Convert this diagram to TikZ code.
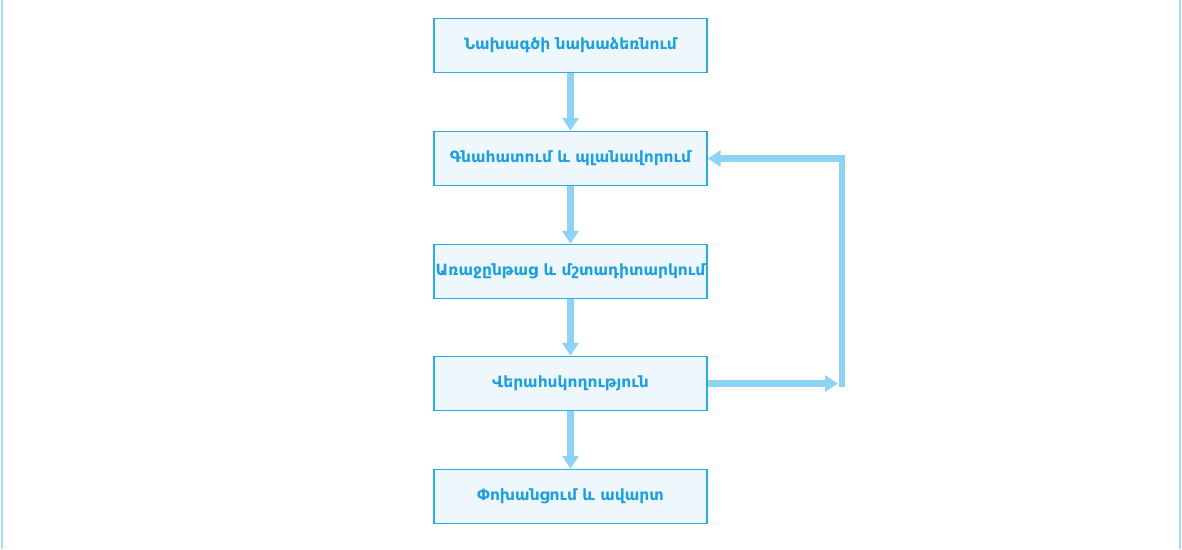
\documentclass[tikz,border=0pt]{standalone}
\usepackage{fontspec}
\setmainfont{DejaVu Sans}
\usetikzlibrary{arrows.meta}
\definecolor{boxline}{HTML}{2AAAE2}
\definecolor{boxfill}{HTML}{EDF7FC}
\definecolor{flowcol}{HTML}{8ED4F2}
\definecolor{textcol}{HTML}{1CA0DE}
\tikzset{
  stage/.style={draw=boxline, line width=1.4pt, fill=boxfill, minimum width=273pt,
    minimum height=54pt, inner sep=0pt, text=textcol, font=\bfseries\fontsize{15.5}{17}\selectfont},
  flow/.style={draw=flowcol, line width=6.5pt, -{Triangle[width=16pt,length=13pt]}},
}
\begin{document}
\begin{tikzpicture}[x=1pt,y=1pt]
    \useasboundingbox (0,0) rectangle (1182,549);
    \draw[flowcol!80, line width=2pt] (2,0) -- (2,549);
    \draw[flowcol!80, line width=2pt] (1180,0) -- (1180,549);
    \node[stage] (init) at (570.5,503.5) {Նախագծի նախաձեռնում};
    \node[stage] (plan) at (570.5,390.5) {Գնահատում և պլանավորում};
    \node[stage] (prog) at (570.5,277.5) {Առաջընթաց և մշտադիտարկում};
    \node[stage] (ctrl) at (570.5,165.5) {Վերահսկողություն};
    \node[stage] (done) at (570.5,52.5) {Փոխանցում և ավարտ};
    \draw[flow] (init.south) -- (plan.north);
    \draw[flow] (plan.south) -- (prog.north);
    \draw[flow] (prog.south) -- (ctrl.north);
    \draw[flow] (ctrl.south) -- (done.north);
    % feedback loop
    \coordinate (loopa) at (838,165.5);
    \coordinate (loopb) at (842,162.25);
    \draw[flow] (ctrl.east) -- (loopa);
    \draw[flow] (loopb) |- (plan.east);
\end{tikzpicture}
\end{document}
